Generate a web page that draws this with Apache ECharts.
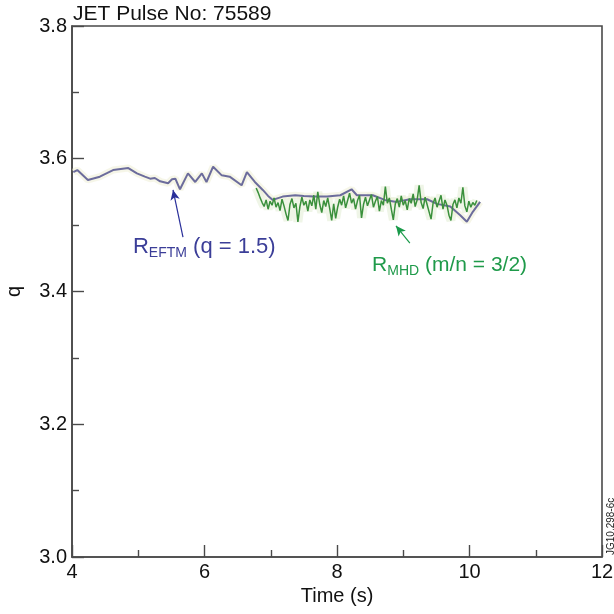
<!DOCTYPE html>
<html><head><meta charset="utf-8">
<script src="https://cdn.jsdelivr.net/npm/echarts@6/dist/echarts.min.js"></script>
<style>html,body{margin:0;padding:0;background:#fff}#c{width:614px;height:614px}</style>
</head><body><div id="c"></div>
<script>
const titleText = 'JET Pulse No: 75589';
const xName = 'Time (s)';
const yName = 'q';
const watermark = 'JG10.298-6c';
const xTicks = [4, 6, 8, 10, 12];
const yTicks = [3.0, 3.2, 3.4, 3.6, 3.8];

// R_EFTM (q = 1.5)
const eftmTime = [4.02,4.08,4.24,4.42,4.62,4.85,4.98,5.10,5.18,5.25,5.33,5.45,5.51,5.56,5.63,5.75,5.86,5.96,6.03,6.13,6.26,6.38,6.56,6.64,6.76,6.88,6.96,7.03,7.18,7.37,7.50,7.65,7.85,8.05,8.22,8.30,8.54,8.72,8.90,9.10,9.36,9.51,9.71,9.86,9.96,10.05,10.16];
const eftmQ    = [3.580,3.583,3.568,3.573,3.583,3.586,3.578,3.573,3.570,3.571,3.566,3.563,3.569,3.570,3.554,3.578,3.565,3.578,3.565,3.588,3.575,3.573,3.560,3.580,3.565,3.553,3.544,3.538,3.543,3.545,3.544,3.543,3.543,3.545,3.554,3.545,3.545,3.538,3.535,3.539,3.539,3.532,3.528,3.515,3.505,3.520,3.535];

// R_MHD (m/n = 3/2), sampled every mhdStep seconds from mhdStart
const mhdStart = 6.78;
const mhdStep = 0.03;
const mhdQ = [3.556,3.549,3.541,3.534,3.528,3.538,3.524,3.536,3.530,3.541,
3.527,3.534,3.522,3.539,3.529,3.517,3.507,3.531,3.540,3.526,
3.533,3.505,3.528,3.542,3.530,3.536,3.521,3.538,3.529,3.545,
3.524,3.550,3.531,3.519,3.537,3.528,3.541,3.525,3.507,3.532,
3.510,3.527,3.539,3.530,3.544,3.526,3.537,3.548,3.533,3.540,
3.524,3.537,3.545,3.511,3.531,3.542,3.529,3.538,3.546,3.527,
3.536,3.543,3.521,3.537,3.530,3.558,3.533,3.541,3.524,3.508,
3.532,3.540,3.527,3.544,3.530,3.537,3.523,3.540,3.533,3.547,
3.528,3.538,3.560,3.534,3.525,3.542,3.531,3.520,3.509,3.533,
3.541,3.527,3.536,3.545,3.524,3.538,3.530,3.515,3.507,3.531,
3.538,3.526,3.541,3.533,3.557,3.529,3.520,3.536,3.527,3.534,
3.530,3.537];

// annotation anchors (data coords)
const eftmArrow = [[5.675, 3.482], [5.525, 3.553]];
const mhdArrow = [[9.10, 3.473], [8.89, 3.499]];
const eftmLabelAt = [4.92, 3.4665];
const mhdLabelAt = [8.53, 3.4395];

const FONT = "'Liberation Sans', Arial, Helvetica, sans-serif";
const blue = '#6c6c9c';
const green = '#3a903c';
const blueText = '#3b3e98';
const greenText = '#1f9a4a';
const axisCol = '#4a4a4a';

const eftmData = eftmTime.map((t, i) => [t, eftmQ[i]]);
const mhdData = mhdQ.map((q, i) => [+(mhdStart + i * mhdStep).toFixed(3), q]);

const chart = echarts.init(document.getElementById('c'));
const axisCommon = {
  axisLine: { show: true, lineStyle: { color: axisCol, width: 1.6 } },
  axisTick: { show: true, inside: true, length: 12, lineStyle: { color: axisCol, width: 1.4 } },
  minorTick: { show: true, splitNumber: 2, length: 7, lineStyle: { color: axisCol, width: 1.4 } },
  splitLine: { show: false },
  axisLabel: { color: '#111', fontSize: 20, fontFamily: FONT, margin: 5 },
  nameTextStyle: { color: '#111', fontSize: 20, fontFamily: FONT }
};
chart.setOption({
  animation: false,
  backgroundColor: '#fff',
  title: { text: titleText, left: 73, top: 4, padding: 0, textStyle: { fontSize: 21, fontWeight: 'normal', color: '#111', fontFamily: FONT } },
  grid: { left: 72, right: 12, top: 26, bottom: 57, show: true, borderColor: axisCol, borderWidth: 1.6,
    backgroundColor: 'transparent', containLabel: false, outerBoundsMode: 'none' },
  xAxis: Object.assign({}, axisCommon, {
    type: 'value', min: xTicks[0], max: xTicks[xTicks.length - 1], interval: 2,
    name: xName, nameLocation: 'middle', nameGap: 27,
    axisLabel: Object.assign({}, axisCommon.axisLabel, { formatter: v => String(v) })
  }),
  yAxis: Object.assign({}, axisCommon, {
    type: 'value', min: yTicks[0], max: yTicks[yTicks.length - 1], interval: 0.2,
    name: yName, nameLocation: 'middle', nameGap: 48, nameRotate: 90,
    axisLabel: Object.assign({}, axisCommon.axisLabel, { formatter: v => v.toFixed(1) })
  }),
  series: [
    { name: 'halo', type: 'line', data: mhdData, showSymbol: false, symbol: 'none', silent: true,
      lineStyle: { color: 'rgba(215,230,195,0.4)', width: 9 }, z: 1 },
    { name: 'haloE', type: 'line', data: eftmData, showSymbol: false, symbol: 'none', silent: true,
      lineStyle: { color: 'rgba(238,238,210,0.5)', width: 7 }, z: 1 },
    { name: 'EFTM', type: 'line', data: eftmData, showSymbol: false, symbol: 'none',
      lineStyle: { color: blue, width: 2 }, z: 2,
      markLine: { silent: true, symbol: ['none', 'arrow'], symbolSize: [7, 10], label: { show: false },
        data: [
          [{ coord: eftmArrow[0], lineStyle: { color: '#2a2f9a', width: 1.2, type: 'solid' } }, { coord: eftmArrow[1] }],
          [{ coord: mhdArrow[0], lineStyle: { color: '#1a9a4a', width: 1.2, type: 'solid' } }, { coord: mhdArrow[1] }]
        ] } },
    { name: 'MHD', type: 'line', data: mhdData, showSymbol: false, symbol: 'none',
      lineStyle: { color: green, width: 1.5 }, z: 3 }
  ]
});

const p1 = chart.convertToPixel({ gridIndex: 0 }, eftmLabelAt);
const p2 = chart.convertToPixel({ gridIndex: 0 }, mhdLabelAt);
chart.setOption({
  graphic: [
    { type: 'text', x: p1[0], y: p1[1], style: {
      text: '{r|R}{s|EFTM}{r| (q = 1.5)}', fill: blueText, font: '22px ' + FONT, verticalAlign: 'middle',
      rich: { r: { fontSize: 22, fontFamily: FONT, fill: blueText, lineHeight: 26 },
              s: { fontSize: 14, fontFamily: FONT, fill: blueText, lineHeight: 10, verticalAlign: 'bottom' } } } },
    { type: 'text', x: p2[0], y: p2[1], style: {
      text: '{r|R}{s|MHD}{r| (m/n = 3/2)}', fill: greenText, font: '22px ' + FONT, verticalAlign: 'middle',
      rich: { r: { fontSize: 21, fontFamily: FONT, fill: greenText, lineHeight: 26 },
              s: { fontSize: 14, fontFamily: FONT, fill: greenText, lineHeight: 10, verticalAlign: 'bottom' } } } },
    { type: 'text', x: 606, y: 555, rotation: Math.PI / 2, style: {
      text: watermark, fill: '#222', font: '10px ' + FONT, align: 'left', verticalAlign: 'top' } }
  ]
});
</script></body></html>
